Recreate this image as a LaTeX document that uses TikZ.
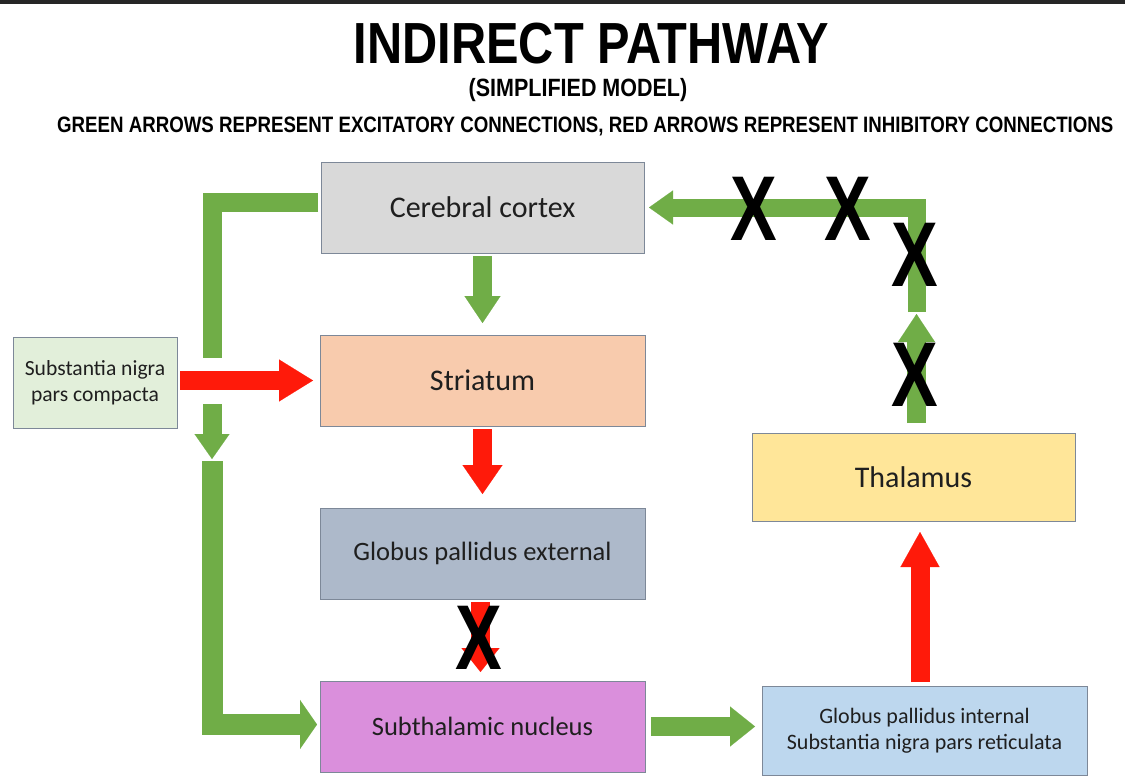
\documentclass[tikz,border=0pt]{standalone}
\usepackage{fontspec}
\setmainfont{Carlito}
\newfontfamily\headfont{Liberation Sans}
\usetikzlibrary{arrows.meta, positioning, calc}

\definecolor{boxline}{HTML}{7D8898}
\definecolor{cortexfill}{HTML}{D9D9D9}
\definecolor{striatfill}{HTML}{F8CBAD}
\definecolor{gpefill}{HTML}{ADB9CA}
\definecolor{stnfill}{HTML}{DA8FDC}
\definecolor{sncfill}{HTML}{E2EFDA}
\definecolor{thalfill}{HTML}{FFE699}
\definecolor{gpifill}{HTML}{BDD7EE}
\definecolor{arrgreen}{HTML}{70AD47}
\definecolor{arrred}{HTML}{FF1A0A}
\definecolor{topbar}{HTML}{262626}
\definecolor{textgray}{HTML}{1F1F1F}

\begin{document}
\begin{tikzpicture}[x=1pt, y=-1pt,
    node distance=82pt,
    box/.style={draw=boxline, line width=0.8pt, minimum width=325pt, minimum height=91pt,
                inner sep=0pt, outer sep=0pt, align=center, text=textgray,
                font=\fontsize{26.5}{31}\selectfont},
    big/.style={font=\fontsize{30}{34}\selectfont},
    head/.style={inner sep=0pt, anchor=base},
    cross/.style={inner sep=0pt, font=\headfont\bfseries\fontsize{92}{92}\selectfont},
    gline/.style={draw=arrgreen, line width=19pt, line join=miter},
    garrow/.style={gline, -{Triangle[length=27pt, width=36pt, line width=0.1pt]}},
    rarrow/.style={draw=arrred, line width=19pt, -{Triangle[length=29pt, width=40pt, line width=0.1pt]}},
]
\fill[white] (0,0) rectangle (1125,781);
\useasboundingbox (0,0) rectangle (1125,781);
\fill[topbar] (0,0) rectangle (1125,4);

% headings
\node[head, font=\headfont\bfseries\fontsize{58}{60}\selectfont] (title) at (591.5,64)
    {\scalebox{0.84}[1]{INDIRECT PATHWAY}};
\node[head, font=\headfont\bfseries\fontsize{25}{28}\selectfont] (subtitle) at (578,97)
    {\scalebox{0.86}[1]{(SIMPLIFIED MODEL)}};
\node[head, anchor=base west, font=\headfont\bfseries\fontsize{22.3}{25}\selectfont] (legend) at (57,133)
    {\scalebox{0.838}[1]{GREEN ARROWS REPRESENT EXCITATORY CONNECTIONS, RED ARROWS REPRESENT INHIBITORY CONNECTIONS}};

% boxes
\node[box, big, fill=cortexfill, minimum width=323pt] (cortex) at (482.5,207.5) {Cerebral cortex};
\node[box, big, fill=striatfill, below=of cortex] (striatum) {Striatum};
\node[box, fill=gpefill, below=of striatum] (gpe) {Globus pallidus external};
\node[box, fill=stnfill, below=of gpe] (stn) {Subthalamic nucleus};
\node[box, fill=sncfill, minimum width=164pt, font=\fontsize{21.6}{26}\selectfont] (snc) at (95,382.5)
    {Substantia nigra\\pars compacta};
\node[box, big, fill=thalfill, minimum width=323pt, minimum height=88pt] (thalamus) at (913.5,477) {Thalamus};
\node[box, fill=gpifill, minimum height=89pt, font=\fontsize{22}{26}\selectfont] (gpi) at (924.5,730.5)
    {Globus pallidus internal\\Substantia nigra pars reticulata};

% main column
\draw[garrow, shorten <=3pt, shorten >=12pt] (cortex) -- (striatum);
\draw[rarrow, shorten <=3pt, shorten >=14pt] (striatum) -- (gpe);
\draw[rarrow, shorten <=3pt, shorten >=9pt, -{Triangle[length=24pt, width=38pt, line width=0.1pt]}]
    ([xshift=-2pt]gpe.south) -- ([xshift=-2pt]stn.north);
\draw[rarrow, shorten <=3pt, shorten >=7pt, -{Triangle[length=34pt, width=42pt, line width=0.1pt]}]
    (snc.east |- striatum) -- (striatum.west);
\draw[garrow, shorten <=6pt, shorten >=7pt, -{Triangle[length=25pt, width=40pt, line width=0.1pt]}]
    (stn) -- (stn -| gpi.west);
\draw[rarrow, shorten <=4pt, shorten >=11pt, -{Triangle[length=35pt, width=39pt, line width=0.1pt]}]
    (gpi.north -| 920,0) -- (thalamus.south -| 920,0);

% left side: cortex and SNc down to the STN
\coordinate (lefttop) at (212,358);
\coordinate (leftmid) at (212,404);
\coordinate (leftdown) at (212,459);
\coordinate (leftlow) at (212,461);
\draw[gline, shorten <=3pt] ([yshift=5pt]cortex.west) -| (lefttop);
\draw[garrow, -{Triangle[length=25pt, width=35pt, line width=0.1pt]}] (leftmid) -- (leftdown);
\draw[garrow, line width=21pt, shorten >=3pt, -{Triangle[length=17pt, width=49pt, line width=0.1pt]}]
    (leftlow) |- ([yshift=2pt]stn.west);

% right side: thalamus back to cortex
\coordinate (thgap) at (916.5,312);
\draw[garrow, shorten <=10pt, shorten >=2pt, -{Triangle[length=28pt, width=37pt, line width=0.1pt]}]
    (thalamus.north -| thgap) -- (thgap);
\draw[garrow, line width=18pt, shorten >=5pt, -{Triangle[length=24pt, width=34pt, line width=0.1pt]}]
    (thgap) |- (cortex.east);

% crosses
\node[cross] (xa) at (754,208.5) {\scalebox{0.76}[1]{X}};
\node[cross] (xb) at (848,208.5) {\scalebox{0.76}[1]{X}};
\node[cross] (xc) at (915,255) {\scalebox{0.76}[1]{X}};
\node[cross] (xd) at (915,375) {\scalebox{0.76}[1]{X}};
\node[cross] (xe) at (478.5,638) {\scalebox{0.76}[1]{X}};
\end{tikzpicture}
\end{document}
